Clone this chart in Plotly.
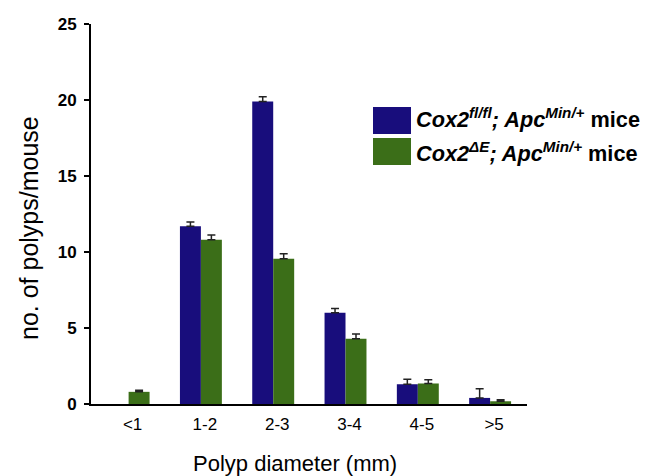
import plotly.graph_objects as go

categories = ["<1", "1-2", "2-3", "3-4", "4-5", ">5"]
flfl_values = [None, 11.7, 19.9, 6.0, 1.3, 0.4]
flfl_err = [None, 0.27, 0.32, 0.28, 0.33, 0.6]
dE_values = [0.8, 10.8, 9.55, 4.3, 1.35, 0.18]
dE_err = [0.1, 0.32, 0.33, 0.3, 0.25, 0.1]
y_ticks = [0, 5, 10, 15, 20, 25]

blue = "#180d7c"
green = "#3b6e18"
err_color = "#222222"

# page is offset by the browser's default 8px body margin
W, H = 653 - 8, 476 - 8
L, T, B, R = 91 - 8, 24 - 8, 72, 126
PW, PH = 436, 380


def px(x):
    return (x - 91) / PW


def py(y):
    return (404 - y) / PH


fig = go.Figure()
fig.add_trace(go.Bar(
    x=categories, y=flfl_values, marker=dict(color=blue, line=dict(width=0)),
    error_y=dict(type="data", symmetric=False, array=flfl_err,
                 arrayminus=[0] * len(flfl_err), color=err_color, thickness=1.5, width=4),
    showlegend=False,
))
fig.add_trace(go.Bar(
    x=categories, y=dE_values, marker=dict(color=green, line=dict(width=0)),
    error_y=dict(type="data", symmetric=False, array=dE_err,
                 arrayminus=[0] * len(dE_err), color=err_color, thickness=1.5, width=4),
    showlegend=False,
))

fig.update_layout(
    width=W, height=H,
    margin=dict(l=L, r=R, t=T, b=B, autoexpand=False),
    plot_bgcolor="white", paper_bgcolor="white",
    barmode="group", bargap=0.42, bargroupgap=0,
    font=dict(family="Liberation Sans, Arial, sans-serif", color="black"),
    xaxis=dict(
        range=[-0.52, 5.51], showgrid=False, showline=True, linecolor="black",
        linewidth=2, ticks="", tickfont=dict(size=17), ticklabelshift=4,
        ticklabelstandoff=4, zeroline=False, automargin=False,
    ),
    yaxis=dict(
        range=[0, 25], tickvals=y_ticks, showgrid=False, showline=True,
        linecolor="black", linewidth=2, ticks="outside", ticklen=5, tickwidth=2,
        tickcolor="black", ticklabelstandoff=4,
        tickfont=dict(size=17, family="Liberation Sans, Arial", weight="bold"),
        zeroline=False, automargin=False,
    ),
)

fig.add_annotation(text="no. of polyps/mouse", x=0, y=py(228), xref="paper", yref="paper",
                   xanchor="center", yanchor="middle", xshift=-62, showarrow=False,
                   textangle=-90, font=dict(size=25))
fig.add_annotation(text="Polyp diameter (mm)", x=px(294.5), y=0, xref="paper", yref="paper",
                   xanchor="center", yanchor="middle", yshift=-59, showarrow=False,
                   font=dict(size=22))

# Legend drawn manually
legend_labels = [
    "<b><i>Cox2<sup>fl/fl</sup>; Apc<sup>Min/+</sup></i> mice</b>",
    "<b><i>Cox2<sup>ΔE</sup>; Apc<sup>Min/+</sup></i> mice</b>",
]
legend_colors = [blue, green]
box_tops = [107, 138]
text_mid = [118, 152]
for label, col, top, mid in zip(legend_labels, legend_colors, box_tops, text_mid):
    fig.add_shape(type="rect", xref="paper", yref="paper",
                  x0=px(373), x1=px(411), y0=py(top + 27), y1=py(top),
                  fillcolor=col, line=dict(width=0), layer="above")
    fig.add_annotation(text=label, xref="paper", yref="paper",
                       x=px(414), y=py(mid), xanchor="left", yanchor="middle",
                       showarrow=False, font=dict(size=21.7))

fig.write_html("out.html")
